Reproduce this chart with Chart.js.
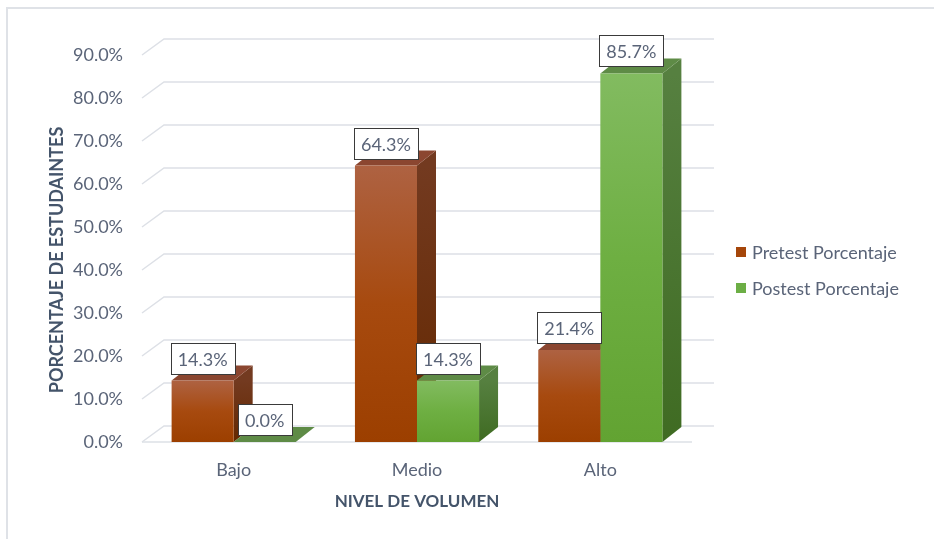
<!DOCTYPE html>
<html><head><meta charset="utf-8">
<script src="https://cdn.jsdelivr.net/npm/chart.js@4"></script>
<style>
html,body{margin:0;padding:0;background:#fff;}
#wrap{position:relative;width:934px;height:539px;overflow:hidden;}
#frame{position:absolute;left:6px;top:7px;width:1000px;height:1000px;border:2px solid #dfe2e7;box-sizing:border-box;}
canvas{position:absolute;left:0;top:0;}
</style></head><body>
<div id="wrap"><div id="frame"></div><canvas id="c" width="934" height="539"></canvas></div>
<script>
const categories = ['Bajo', 'Medio', 'Alto'];
const pretest = [14.3, 64.3, 21.4];
const postest = [0.0, 14.3, 85.7];
const seriesNames = ['Pretest Porcentaje', 'Postest Porcentaje'];
const yTitle = 'PORCENTAJE DE ESTUDAINTES';
const xTitle = 'NIVEL DE VOLUMEN';

const FONT = 'Lato';
const TXT = '#5a6478';
const TITLE = '#44546a';
const DX = 19, DY = -15;     // bar depth
const WX = 22, WY = -16;     // wall depth

const styles = [
  {front: ['#ae6242', '#a74a0f', '#9c3f00'], side: ['#733a20', '#642800'], top: '#8b4630', legend: '#a5460a'},
  {front: ['#82bb60', '#6eaf42', '#62a332'], side: ['#568040', '#3f6b22'], top: '#5e8b46', legend: '#6cae45'}
];

function frontGradient(stops) {
  return function (ctx) {
    if (ctx.type !== 'data') return stops[1];
    const chart = ctx.chart, ys = chart.scales.y;
    if (!ys) return stops[1];
    const top = ys.getPixelForValue(ctx.raw), base = ys.getPixelForValue(0);
    if (!isFinite(top) || !isFinite(base) || base - top < 1) return stops[1];
    const g = chart.ctx.createLinearGradient(0, top, 0, base);
    g.addColorStop(0, stops[0]); g.addColorStop(0.5, stops[1]); g.addColorStop(1, stops[2]);
    return g;
  };
}

function poly(ctx, pts, fill) {
  ctx.beginPath();
  ctx.moveTo(pts[0][0], pts[0][1]);
  for (let i = 1; i < pts.length; i++) ctx.lineTo(pts[i][0], pts[i][1]);
  ctx.closePath();
  ctx.fillStyle = fill;
  ctx.fill();
}

const bar3d = {
  id: 'bar3d',
  beforeDatasetsDraw(chart) {
    const ctx = chart.ctx, ys = chart.scales.y, a = chart.chartArea;
    ctx.save();
    ctx.strokeStyle = '#dde0e6';
    ctx.lineWidth = 1.5;
    ys.ticks.forEach((t, i) => {
      const y = ys.getPixelForTick(i);
      ctx.beginPath();
      ctx.moveTo(a.left, y);
      ctx.lineTo(a.left + WX, y + WY);
      ctx.lineTo(a.right + WX, y + WY);
      ctx.stroke();
    });
    const y0 = ys.getPixelForValue(0);
    ctx.beginPath(); ctx.moveTo(a.left, y0); ctx.lineTo(a.right, y0); ctx.stroke();

    chart.data.datasets.forEach((ds, di) => {
      const st = styles[di];
      chart.getDatasetMeta(di).data.forEach(bar => {
        const p = bar.getProps(['x', 'y', 'base', 'width'], true);
        const l = p.x - p.width / 2, r = p.x + p.width / 2, top = p.y, base = p.base;
        if (base - top > 0.5) {
          const g = ctx.createLinearGradient(0, top, 0, base);
          g.addColorStop(0, st.side[0]); g.addColorStop(1, st.side[1]);
          poly(ctx, [[r, top], [r + DX, top + DY], [r + DX, base + DY], [r, base]], g);
        }
        poly(ctx, [[l, top], [r, top], [r + DX, top + DY], [l + DX, top + DY]], st.top);
      });
    });
    ctx.restore();
  },
  afterDatasetsDraw(chart) {
    const ctx = chart.ctx;
    ctx.save();
    ctx.font = '18px ' + FONT;
    ctx.textAlign = 'center';
    ctx.textBaseline = 'middle';
    chart.data.datasets.forEach((ds, di) => {
      chart.getDatasetMeta(di).data.forEach((bar, i) => {
        const p = bar.getProps(['x', 'y'], true);
        const txt = ds.data[i].toFixed(1) + '%';
        const w = Math.round(ctx.measureText(txt).width + 14), h = 31;
        const bx = Math.round(p.x - w / 2) + 0.5, by = Math.round(p.y - 7 - h) + 0.5;
        ctx.fillStyle = '#ffffff';
        ctx.fillRect(bx, by, w, h);
        ctx.strokeStyle = '#3a3a3a';
        ctx.lineWidth = 1;
        ctx.strokeRect(bx, by, w, h);
        ctx.fillStyle = TXT;
        ctx.fillText(txt, p.x, by + h / 2 + 1);
      });
    });
    ctx.restore();
  },
  afterDraw(chart) {
    const ctx = chart.ctx;
    ctx.save();
    // legend
    ctx.font = '18px ' + FONT;
    ctx.textAlign = 'left';
    ctx.textBaseline = 'middle';
    const ly = [252, 288];
    seriesNames.forEach((n, i) => {
      ctx.fillStyle = styles[i].legend;
      ctx.fillRect(736, ly[i] - 5, 10, 10);
      ctx.fillStyle = TXT;
      ctx.fillText(n, 752, ly[i] + 1);
    });
    // y title
    ctx.translate(57, 260);
    ctx.rotate(-Math.PI / 2);
    ctx.font = 'bold 18px ' + FONT;
    ctx.textAlign = 'center';
    ctx.fillStyle = TITLE;
    ctx.fillText(yTitle, 0, 0);
    ctx.restore();
  }
};

new Chart(document.getElementById('c'), {
  type: 'bar',
  data: {
    labels: categories,
    datasets: [
      {label: seriesNames[0], data: pretest, backgroundColor: frontGradient(styles[0].front), borderWidth: 0},
      {label: seriesNames[1], data: postest, backgroundColor: frontGradient(styles[1].front), borderWidth: 0}
    ]
  },
  options: {
    responsive: false,
    animation: false,
    devicePixelRatio: 1,
    layout: {padding: {top: 55, right: 242, left: 0, bottom: 0}},
    categoryPercentage: 0.677,
    barPercentage: 1.0,
    plugins: {legend: {display: false}, tooltip: {enabled: false}},
    scales: {
      x: {
        grid: {display: false, drawTicks: false},
        border: {display: false},
        ticks: {color: TXT, font: {family: FONT, size: 18}, padding: 17},
        title: {display: true, text: xTitle, color: TITLE, font: {family: FONT, size: 17, weight: 'bold'}, padding: {top: 0, bottom: 27}},
        afterFit(s) { s.height = 97; }
      },
      y: {
        min: 0, max: 90,
        grid: {display: false, drawTicks: false},
        border: {display: false},
        ticks: {stepSize: 10, color: TXT, font: {family: FONT, size: 18}, padding: 19,
          callback: v => v.toFixed(1) + '%'},
        afterFit(s) { s.width = 142; }
      }
    }
  },
  plugins: [bar3d]
});
</script>
</body></html>
